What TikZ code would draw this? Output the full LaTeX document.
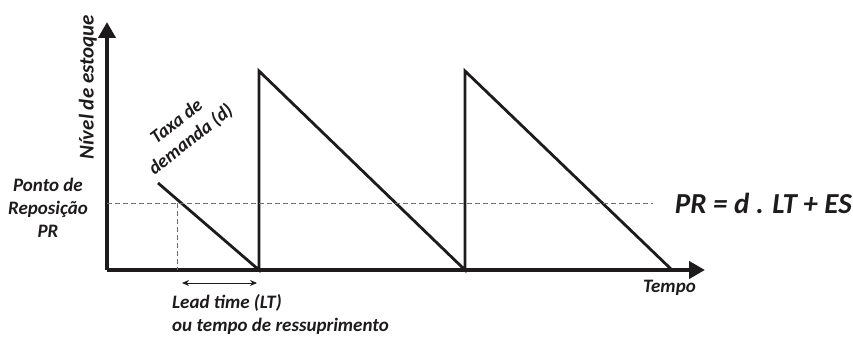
\documentclass[tikz,border=0pt]{standalone}
\usepackage{fontspec}
\setmainfont{Carlito}
\usetikzlibrary{arrows.meta,positioning}
\definecolor{inkdark}{RGB}{30,27,28}
\definecolor{guidegray}{RGB}{110,110,110}

\begin{document}
\begin{tikzpicture}[x=1pt, y=-1pt,
      axis/.style={line width=4pt, draw=inkdark, -{Triangle[length=16pt, width=17pt]}},
      saw/.style={line width=2.8pt, draw=inkdark, line join=miter},
      guide/.style={draw=guidegray, line width=0.9pt, dash pattern=on 5pt off 3pt},
      lbl/.style={font=\fontsize{19}{23}\selectfont\bfseries\itshape, text=inkdark, inner sep=0pt, align=center}
    ]
      \useasboundingbox (0,0) rectangle (853,339);

      % Axes
      \coordinate (orig) at (107,270);
      \coordinate (ytop) at (107,22);
      \coordinate (xend) at (705,270);
      \draw[axis] (orig) -- (ytop);
      \draw[axis] (orig) -- (xend);

      % Stock level sawtooth
      \coordinate (s0) at (158,183);
      \coordinate (z1) at (259,270);
      \coordinate (t1) at (259,71);
      \coordinate (z2) at (465,270);
      \coordinate (t2) at (465,71);
      \coordinate (z3) at (672,270);
      \draw[saw] (s0) -- (z1) -- (t1) -- (z2) -- (t2) -- (z3);

      % Reorder point guides
      \coordinate (prleft) at (107,203);
      \coordinate (prright) at (653,203);
      \coordinate (prhit) at (177,203);
      \coordinate (prfoot) at (177,270);
      \draw[guide] (prleft) -- (prright);
      \draw[guide] (prhit) -- (prfoot);

      % Lead time span
      \coordinate (lta) at (182,283);
      \coordinate (ltb) at (257,283);
      \draw[line width=1pt, draw=inkdark, {Stealth[length=7pt, width=6pt]}-{Stealth[length=7pt, width=6pt]}] (lta) -- (ltb);

      % Labels
      \node[lbl, font=\fontsize{21}{25}\selectfont\bfseries\itshape, rotate=90] (ylabel) at (88,87) {Nível de estoque};
      \node[lbl, anchor=east] (xlabel) at (696,288) {Tempo};
      \node[lbl] (prlabel) at (48,208) {Ponto de\\Reposição\\PR};
      \node[lbl, rotate=38] (rate) at (184,131) {Taxa de\\demanda (d)};
      \node[lbl, align=left, anchor=north west] (ltlabel) at (172,294) {Lead time (LT)\\ou tempo de ressuprimento};
      \node[lbl, font=\fontsize{29}{33}\selectfont\bfseries\itshape, anchor=east] (formula) at (852,203) {PR = d . LT + ES};
    \end{tikzpicture}
\end{document}
